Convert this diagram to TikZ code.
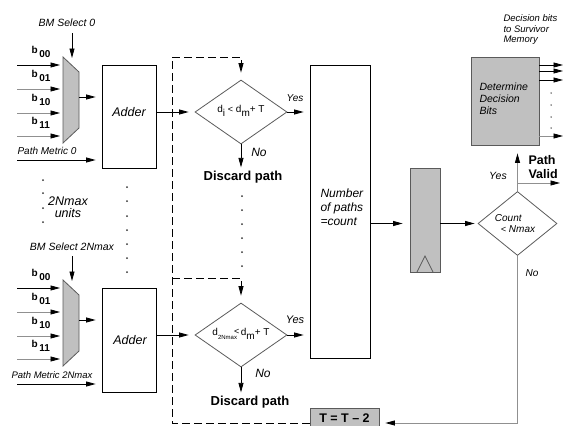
\documentclass[tikz,border=0pt]{standalone}
\usepackage{fontspec}
\setmainfont{Liberation Sans}
\usetikzlibrary{arrows.meta,shapes.geometric}
\definecolor{boxgray}{HTML}{C0C0C0}
\definecolor{linegray}{HTML}{909090}
\definecolor{dgray}{HTML}{5A5A5A}
\tikzset{
  arr/.style={-{Triangle[length=9.5pt,width=5pt,color=black]}, line width=0.8pt},
  garr/.style={arr, draw=linegray},
  plainbox/.style={draw, line width=0.8pt, inner sep=0pt},
  graybox/.style={draw=dgray, fill=boxgray, line width=0.8pt, inner sep=0pt},
  decision/.style={diamond, draw=dgray, line width=0.8pt, inner sep=0pt, aspect=1.44},
  muxshape/.style={draw=dgray, fill=boxgray, line width=0.8pt},
  dashline/.style={line width=0.9pt, dash pattern=on 8pt off 4pt},
  dotmark/.style={circle, fill=black!80, inner sep=0pt, minimum size=2pt},
  bmtxt/.style={font=\fontsize{10.5}{12}\selectfont\itshape},
  bitxt/.style={font=\fontsize{10}{12}\selectfont\bfseries},
  pmtxt/.style={font=\fontsize{10}{12}\selectfont\itshape},
  addtxt/.style={font=\fontsize{12.5}{14}\selectfont\itshape},
  yestxt/.style={font=\fontsize{10}{12}\selectfont\itshape},
  notxt/.style={font=\fontsize{12}{14}\selectfont\itshape},
  disctxt/.style={font=\fontsize{13}{15}\selectfont\bfseries},
  dtxt/.style={font=\fontsize{10}{12}\selectfont},
}
\begin{document}
\begin{tikzpicture}[x=1pt,y=-1pt]
\useasboundingbox (0,0) rectangle (563,426);

% ---------------- top unit ----------------
\node[bmtxt] (bm1) at (67,23) {BM Select 0};
\coordinate (bm1s) at (72,33);
\draw[muxshape] (63,57) coordinate (m1tl) -- (79,72) -- (79,128) -- (63,143) coordinate (m1bl) -- cycle;
\coordinate (m1r) at (79,97);
\draw[arr, shorten >=0pt] (bm1s) -- (72,58) coordinate (m1top);
\foreach \y/\c/\t in {65/black/00, 89/linegray/01, 113/linegray/10, 136/linegray/11}{
  \coordinate (ia\y) at (17,\y);
  \draw[arr, draw=\c, shorten >=3pt] (ia\y) -- (m1tl |- ia\y);
  \node[bitxt, anchor=west] at (28,\y-13) {b\,\raisebox{-3.5pt}{\t}};
}
\node[plainbox, minimum width=54pt, minimum height=103pt] (add1) at (129,116.5) {};
\node[addtxt] (add1t) at (129,112) {Adder};
\draw[arr, shorten >=6pt] (m1r) -- (add1.west |- m1r);
\node[pmtxt] (pm1) at (47,151) {Path Metric 0};
\coordinate (pm1s) at (17,160);
\draw[arr, shorten >=6pt] (pm1s) -- (add1.west |- pm1s);

\node[decision, minimum width=92pt, minimum height=64pt] (d1) at (241,112) {};
\node[dtxt] (d1t) at (241,111) {d\raisebox{-3.5pt}{i} {\small<} d\raisebox{-3.5pt}{m}+ T};
\draw[arr, shorten >=6pt] (add1.east |- d1.west) -- (d1.west);
\node[yestxt] (yes1) at (295,98) {Yes};
\node[plainbox, minimum width=60pt, minimum height=293pt] (nbox) at (340,211.5) {};
\draw[arr, shorten >=6pt] (d1.east) -- (nbox.west |- d1.east);
\node[disctxt] (disc1) at (243,177) {Discard path};
\draw[arr, shorten >=0pt] (d1.south) -- (d1.south |- disc1.north);
\node[notxt] (no1) at (259,152) {No};

% ---------------- dots and middle text ----------------
\foreach \y in {180,193,208,222} \node[dotmark] at (43,\y) {};
\foreach \y in {187,201,216,230,244,258,272} \node[dotmark] at (127,\y) {};
\foreach \y in {196,210,224,238,252,266} \node[dotmark] at (242,\y) {};
\node[addtxt, align=center] (units) at (68,207) {2Nmax\\[-2pt]units};

% ---------------- bottom unit ----------------
\node[bmtxt] (bm2) at (72,247) {BM Select 2Nmax};
\coordinate (bm2s) at (72,256);
\draw[muxshape] (63,280) coordinate (m2tl) -- (79,295) -- (79,351) -- (63,366) -- cycle;
\coordinate (m2r) at (79,320);
\draw[arr, shorten >=0pt] (bm2s) -- (72,281) coordinate (m2top);
\foreach \y/\c/\t in {288/black/00, 312/linegray/01, 336/linegray/10, 359/linegray/11}{
  \coordinate (ib\y) at (17,\y);
  \draw[arr, draw=\c, shorten >=3pt] (ib\y) -- (m2tl |- ib\y);
  \node[bitxt, anchor=west] at (28,\y-13) {b\,\raisebox{-3.5pt}{\t}};
}
\node[plainbox, minimum width=54pt, minimum height=104pt] (add2) at (129,340) {};
\node[addtxt] (add2t) at (130,340) {Adder};
\draw[arr, shorten >=6pt] (m2r) -- (add2.west |- m2r);
\node[pmtxt, font=\fontsize{9.5}{11}\selectfont\itshape] (pm2) at (52,375) {Path Metric 2Nmax};
\coordinate (pm2s) at (17,384);
\draw[arr, shorten >=6pt] (pm2s) -- (add2.west |- pm2s);

\node[decision, minimum width=92pt, minimum height=64pt] (d2) at (241,335) {};
\node[dtxt] (d2t) at (241,334) {d\raisebox{-3.5pt}{\fontsize{6}{7}\selectfont 2Nmax}\kern-3pt\raisebox{1pt}{\small<}\,d\raisebox{-3.5pt}{m}+ T};
\draw[arr, shorten >=6pt] (add2.east |- d2.west) -- (d2.west);
\node[yestxt, font=\fontsize{11}{13}\selectfont\itshape] (yes2) at (295,320) {Yes};
\draw[arr, shorten >=6pt] (d2.east) -- (nbox.west |- d2.east);
\node[disctxt] (disc2) at (250,402) {Discard path};
\draw[arr, shorten >=0pt] (d2.south) -- (d2.south |- disc2.north);
\node[notxt] (no2) at (263,373) {No};

% ---------------- count path ----------------
\node[font=\fontsize{12}{14}\selectfont\itshape, align=left, anchor=west] (nboxt) at (317,207) {Number\\of paths\\=count};
\coordinate (yline) at (0,223.5);
\node[graybox, minimum width=30pt, minimum height=104pt] (reg) at (425,220) {};
\draw[line width=0.7pt, draw=dgray] (417,272) -- (425,256) -- (433,272);
\draw[arr, shorten >=7pt] (nbox.east |- yline) -- (reg.west |- yline);
\node[decision, minimum width=79pt, minimum height=64pt] (d3) at (517.5,223.5) {};
\node[font=\fontsize{10}{12}\selectfont\itshape, align=left] (d3t) at (515,224) {Count\\[-1pt]\hspace*{6pt}{\small<} Nmax};
\draw[arr, shorten >=3pt] (reg.east |- yline) -- (d3.west);

% ---------------- decision bits ----------------
\node[graybox, minimum width=68pt, minimum height=88pt] (det) at (505,101) {};
\node[font=\fontsize{10.5}{12}\selectfont\itshape, align=left, anchor=west] (dett) at (476,99) {Determine\\Decision\\Bits};
\node[font=\fontsize{9.5}{10.5}\selectfont\itshape, align=left, anchor=west] (dbits) at (500,30) {Decision bits\\to Survivor\\Memory};
\foreach \y in {65,71,80}{
  \coordinate (o\y) at (563,\y);
  \draw[arr, shorten >=0pt] (det.east |- o\y) -- (o\y);
}
\coordinate (o136) at (563,136);
\draw[garr, shorten >=0pt] (det.east |- o136) -- (o136);
\foreach \y in {93,105,117,128} \node[dotmark, minimum size=1.5pt] at (551,\y) {};

\draw[garr, shorten >=8pt] (d3.north) -- (det.south -| d3.north);
\coordinate (pvs) at (517,183);
\coordinate (pve) at (560,183);
\draw[garr, shorten >=0pt] (pvs) -- (pve);
\node[font=\fontsize{12.5}{14}\selectfont\bfseries, align=left, anchor=west] (pv) at (525,167) {Path\\Valid};
\node[yestxt, font=\fontsize{10.5}{12}\selectfont\itshape] (yes3) at (498,176) {Yes};
\node[yestxt] (no3) at (532,273) {No};

% ---------------- threshold update ----------------
\node[graybox, minimum width=69pt, minimum height=20pt, font=\fontsize{12.5}{14}\selectfont\bfseries] (tbox) at (344.5,418) {T = T -- 2};
\coordinate (dB) at (172,423);
\coordinate (dT) at (172,57);
\coordinate (dM) at (172,278);
\draw[garr, shorten >=6pt] (d3.south) -- (d3.south |- dB) -- (tbox.east |- dB);
\draw[dashline, arr, shorten >=7pt] (tbox.west |- dB) -- (dB) -- (dT) -| (d1.north);
\draw[dashline, arr, shorten >=7pt] (dM) -| (d2.north);
\end{tikzpicture}
\end{document}
